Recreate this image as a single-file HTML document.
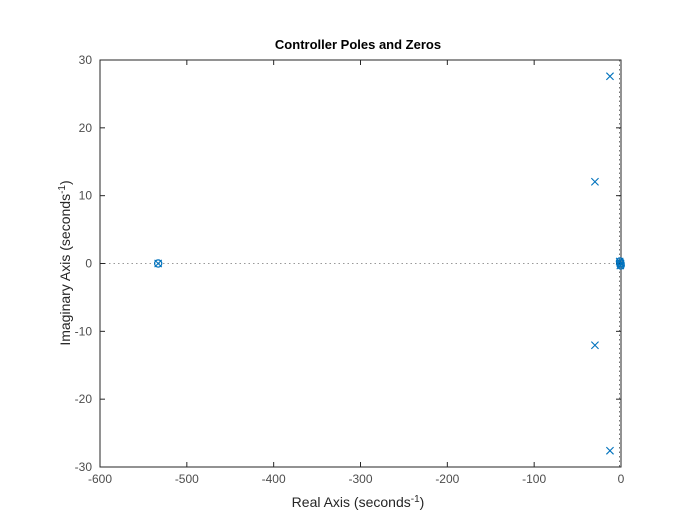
<!DOCTYPE html>
<html><head><meta charset="utf-8"><style>
body{margin:0;background:#fff;}
text{font-family:"Liberation Sans",Arial,sans-serif;}
</style></head><body>
<svg id="chart" width="685" height="525" xmlns="http://www.w3.org/2000/svg">
<rect x="0" y="0" width="685" height="525" fill="#fff"/>
<g id="axes"></g>
<g id="marks"></g>
</svg>
<script>
const poleRe = [-12.7, -30, -30, -12.7, -533, -0.5, -1.5, -0.8];
const poleIm = [27.6, 12.05, -12.05, -27.6, 0, 0, 0.3, -0.3];
const zeroRe = [-533, -0.5, -1.2, -0.3];
const zeroIm = [0, 0, 0.3, -0.3];
const xTicks = [-600,-500,-400,-300,-200,-100,0];
const yTicks = [-30,-20,-10,0,10,20,30];
const X0=100,X1=621,Y0=60,Y1=467;
const xs=v=>X0+(v+600)/600*(X1-X0);
const ys=v=>Y1-(v+30)/60*(Y1-Y0);
const NS="http://www.w3.org/2000/svg";
const ax=document.getElementById('axes'), mk=document.getElementById('marks');
function el(tag,attrs,parent){const e=document.createElementNS(NS,tag);for(const k in attrs)e.setAttribute(k,attrs[k]);parent.appendChild(e);return e;}
let zl=el('line',{x1:X0,x2:X1,y1:ys(0),y2:ys(0),stroke:'#999','stroke-dasharray':'1.5,3','stroke-width':1},ax);


let box=el('rect',{x:X0,y:Y0,width:X1-X0,height:Y1-Y0,fill:'none',stroke:'#262626','stroke-width':1},ax);


let vl=el('line',{x1:xs(0)-1.5,x2:xs(0)-1.5,y1:Y0,y2:Y1,stroke:'#777','stroke-dasharray':'1.5,3','stroke-width':1},ax);


xTicks.forEach(t=>{
  const x=xs(t);
  el('line',{x1:x,x2:x,y1:Y1,y2:Y1-5,stroke:'#262626'},ax);
  el('line',{x1:x,x2:x,y1:Y0,y2:Y0+5,stroke:'#262626'},ax);
  const tx=el('text',{x:x,y:Y1+16,'text-anchor':'middle','font-size':12,fill:'#4d4d4d'},ax);
  tx.textContent=t;
  
  
});
yTicks.forEach(t=>{
  const y=ys(t);
  el('line',{x1:X0,x2:X0+5,y1:y,y2:y,stroke:'#262626'},ax);
  el('line',{x1:X1,x2:X1-5,y1:y,y2:y,stroke:'#262626'},ax);
  const tx=el('text',{x:X0-8,y:y+4,'text-anchor':'end','font-size':12,fill:'#4d4d4d'},ax);
  tx.textContent=t;
  
  
});
const c='#0072BD';
zeroRe.forEach((r,i)=>{
  const m=el('circle',{cx:xs(r),cy:ys(zeroIm[i]),r:3.6,fill:'none',stroke:c,'stroke-width':1.2},mk);
  
  
});
poleRe.forEach((r,i)=>{
  const x=xs(r),y=ys(poleIm[i]),s=3.6;
  const m=el('path',{d:`M${x-s},${y-s}L${x+s},${y+s}M${x-s},${y+s}L${x+s},${y-s}`,stroke:c,'stroke-width':1.1,fill:'none'},mk);
  
  
});
</script>
<svg width="685" height="525" style="position:absolute;left:0;top:0" xmlns="http://www.w3.org/2000/svg">
<text x="358" y="49" text-anchor="middle" font-size="13" font-weight="bold" fill="#000">Controller Poles and Zeros</text>
<text x="358" y="507" text-anchor="middle" font-size="14" fill="#262626">Real Axis (seconds<tspan dy="-5" font-size="10">-1</tspan><tspan dy="5">)</tspan></text>
<text transform="translate(70,263) rotate(-90)" text-anchor="middle" font-size="14" fill="#262626">Imaginary Axis (seconds<tspan dy="-5" font-size="10">-1</tspan><tspan dy="5">)</tspan></text>
</svg>
</body></html>
